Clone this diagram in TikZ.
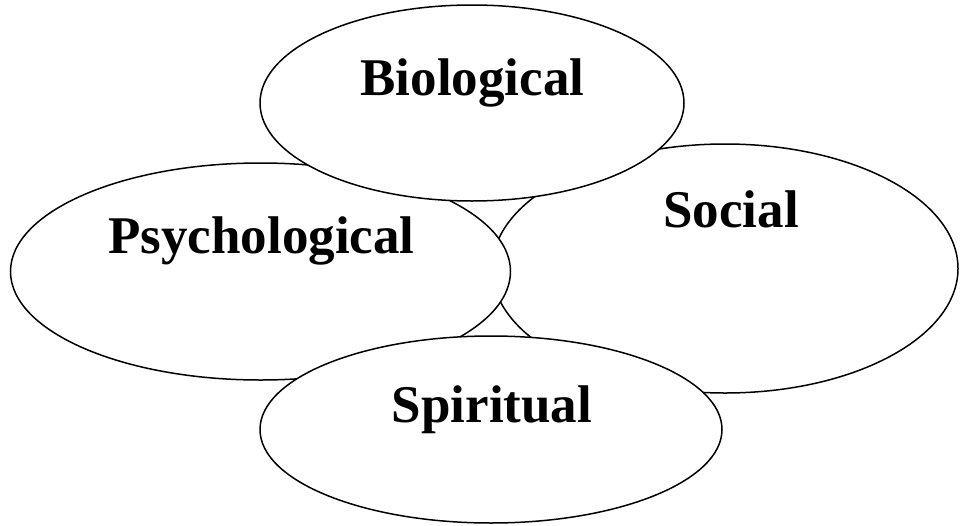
\documentclass[tikz,border=0pt]{standalone}
\usepackage{fontspec}
\setmainfont{Liberation Serif}
\usetikzlibrary{shapes.geometric}
\begin{document}
\begin{tikzpicture}[x=1pt,y=-1pt,
  oval/.style={ellipse,draw=black,line width=1.5pt,fill=white,inner sep=0pt},
  lbl/.style={anchor=base,inner sep=0pt,font=\fontsize{53}{60}\selectfont\bfseries}]
\useasboundingbox (0,0) rectangle (961,525);
\node[oval,minimum width=466pt,minimum height=249pt] (social) at (725,268.5) {};
\node[oval,minimum width=500pt,minimum height=217pt] (psych) at (260.5,271.5) {};
\node[oval,minimum width=424pt,minimum height=196pt] (bio) at (472,103) {};
\node[oval,minimum width=462pt,minimum height=187pt] (spirit) at (491,429.5) {};
\node[lbl] (tbio) at (472.5,95) {Biological};
\node[lbl] (tpsych) at (261.5,253) {Psychological};
\node[lbl] (tsocial) at (731,227) {Social};
\node[lbl] (tspirit) at (492,422) {Spiritual};
\end{tikzpicture}
\end{document}
